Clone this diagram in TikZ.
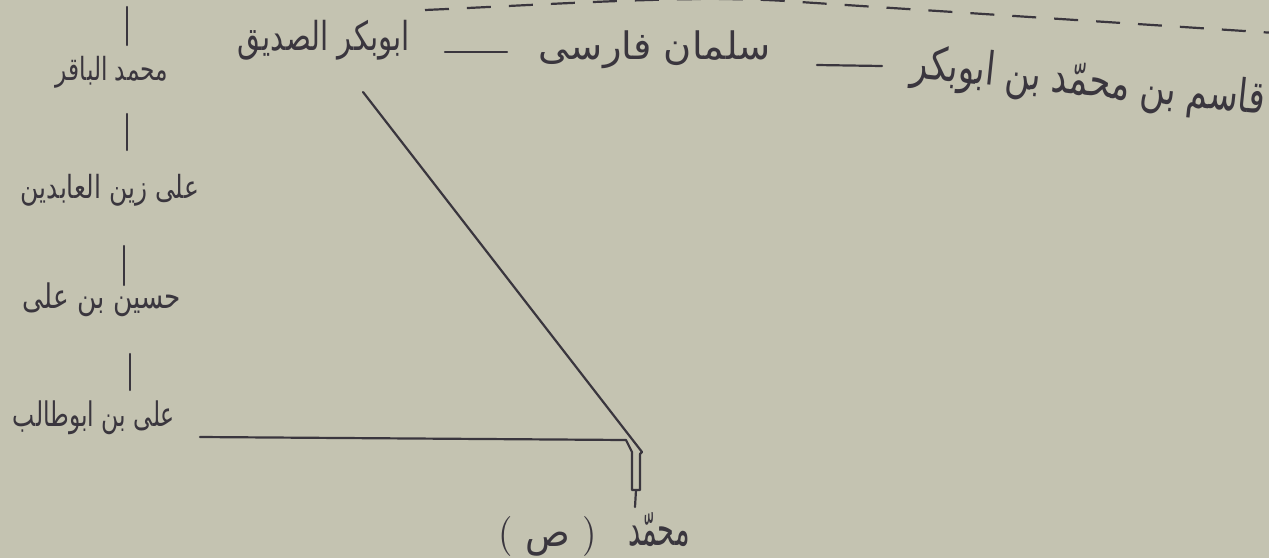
\documentclass[tikz,border=0pt]{standalone}
\usepackage{fontspec}
\usepackage{graphicx}
\TeXXeTstate=1
\newfontfamily\arabicfont[Script=Arabic]{DejaVu Sans}
\newcommand\artext[1]{{\arabicfont\beginR #1\endR}}
\newcommand\fitwh[3]{\resizebox*{#1}{#2}{#3}}
\definecolor{paper}{RGB}{196,195,177}
\definecolor{ink}{RGB}{58,54,62}
\tikzset{
  label/.style={inner sep=0pt, text=ink},
  pen/.style={draw=ink, line width=2.2pt, line cap=round, line join=round},
  dashpen/.style={draw=ink, line width=2.2pt, dash pattern=on 24pt off 18pt}
}
\begin{document}
\begin{tikzpicture}[x=1pt,y=-1pt]
\fill[paper] (0,0) rectangle (1269,558);
\useasboundingbox (0,0) rectangle (1269,558);
% labels
\node[label] (baqir) at (112,72) {\fitwh{112pt}{32pt}{\artext{محمد الباقر}}};
\node[label] (zayn) at (110,190) {\fitwh{178pt}{32pt}{\artext{علی زین العابدین}}};
\node[label] (husayn) at (102,300) {\fitwh{158pt}{34pt}{\artext{حسین بن علی}}};
\node[label] (ali) at (94,418) {\fitwh{162pt}{34pt}{\artext{علی بن ابوطالب}}};
\node[label] (abubakr) at (324,40) {\fitwh{172pt}{40pt}{\artext{ابوبکر الصدیق}}};
\node[label] (salman) at (655,50) {\fitwh{232pt}{38pt}{\artext{سلمان فارسی}}};
\node[label, rotate=-6] (qasim) at (1088,84) {\fitwh{355pt}{46pt}{\artext{قاسم بن محمّد بن ابوبکر}}};
\node[label] (muhammad) at (659,530) {\fitwh{62pt}{34pt}{\artext{محمّد}}};
\node[label] (sal) at (548,536) {\fitwh{98pt}{40pt}{(\,\,{\arabicfont ص}\,\,)}};
% connector coordinates
\coordinate (t1a) at (127,7);   \coordinate (t1b) at (127,45);
\coordinate (t2a) at (127,114); \coordinate (t2b) at (127,150);
\coordinate (t3a) at (124,246); \coordinate (t3b) at (124,285);
\coordinate (t4a) at (130,354); \coordinate (t4b) at (130,390);
\coordinate (hstart) at (200,437);
\coordinate (hend) at (626,440);
\coordinate (diagstart) at (363,92);
\coordinate (diagend) at (642,452);
\coordinate (vl) at (632,452);
\coordinate (vlb) at (632,490);
\coordinate (vrb) at (640,490);
\coordinate (tickb) at (635,507);
% vertical ticks of the left column
\draw[pen] (t1a) -- (t1b);
\draw[pen] (t2a) -- (t2b);
\draw[pen] (t3a) -- (t3b);
\draw[pen] (t4a) -- (t4b);
% dashes between names on the top row
\draw[pen] (445,52) -- (507,52);
\draw[pen] (817,65) -- (882,66);
% horizontal from Ali and diagonal from Abu Bakr meeting at Muhammad
\draw[pen] (hstart) -- (hend) -- (vl) -- (vlb) -- (vrb) -- (640,454) -- (diagend) -- (diagstart);
\draw[pen] (636,490) -- (tickb);
% dashed line along the top
\draw[dashpen] (425,10) .. controls (560,4) and (700,-6) .. (800,2) -- (1275,33);
\end{tikzpicture}
\end{document}
